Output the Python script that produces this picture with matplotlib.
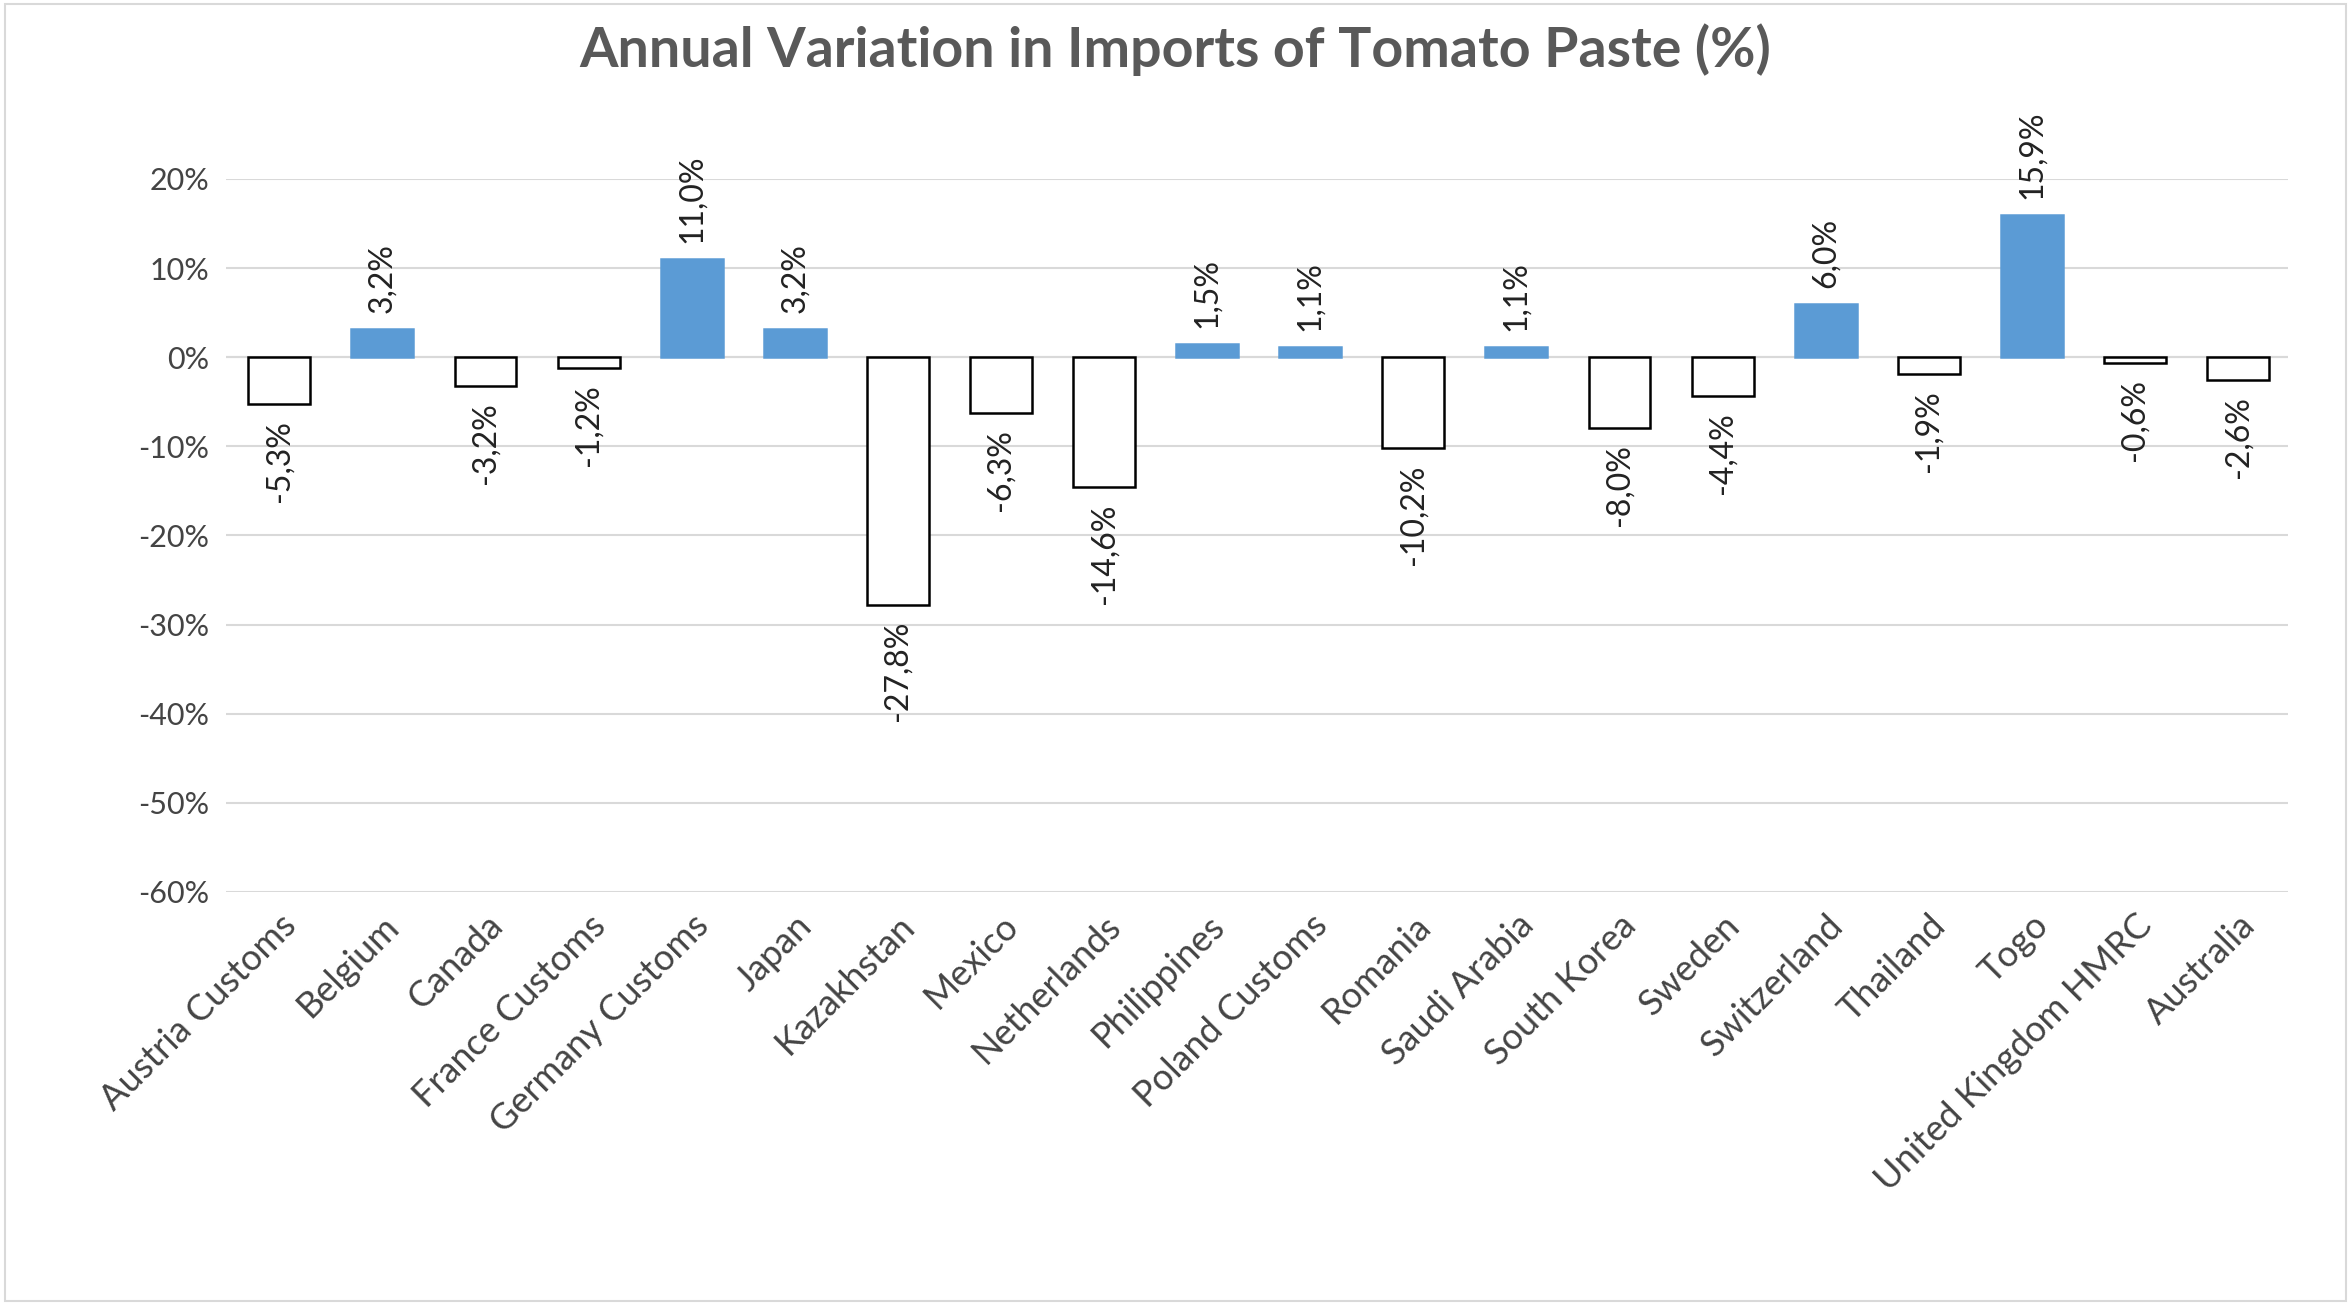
import matplotlib
matplotlib.use('Agg')
import matplotlib.pyplot as plt
import numpy as np

plt.rcParams['font.family'] = ['Lato', 'DejaVu Sans']

countries = ['Austria Customs', 'Belgium', 'Canada', 'France Customs', 'Germany Customs',
             'Japan', 'Kazakhstan', 'Mexico', 'Netherlands', 'Philippines', 'Poland Customs',
             'Romania', 'Saudi Arabia', 'South Korea', 'Sweden', 'Switzerland', 'Thailand',
             'Togo', 'United Kingdom HMRC', 'Australia']
values = [-5.3, 3.2, -3.2, -1.2, 11.0, 3.2, -27.8, -6.3, -14.6, 1.5, 1.1, -10.2, 1.1,
          -8.0, -4.4, 6.0, -1.9, 15.9, -0.6, -2.6]
yticks = [20, 10, 0, -10, -20, -30, -40, -50, -60]

fig = plt.figure(figsize=(23.51, 13.06), dpi=100)
ax = fig.add_axes([0.096, 0.317, 0.877, 0.546])

x = np.arange(len(countries))
colors = ['#5B9BD5' if v > 0 else 'white' for v in values]
edges = ['#5B9BD5' if v > 0 else 'black' for v in values]
ax.bar(x, values, width=0.6, color=colors, edgecolor=edges, linewidth=1.8, zorder=3)

for xi, v in zip(x, values):
    lab = ('%.1f%%' % v).replace('.', ',')
    if v > 0:
        ax.text(xi, v + 1.8, lab, rotation=90, ha='center', va='bottom', fontsize=23, color='#222222')
    else:
        ax.text(xi, v - 1.8, lab, rotation=90, ha='center', va='top', fontsize=23, color='#222222')

ax.set_ylim(-60, 20)
ax.set_xlim(-0.52, len(countries) - 0.52)
ax.set_yticks(yticks)
ax.set_yticklabels(['%d%%' % t for t in yticks], fontsize=22, color='#444444')
ax.yaxis.grid(True, color='#D9D9D9', linewidth=1.5, zorder=0)
ax.axhline(0, color='#D9D9D9', linewidth=1.5, zorder=1)
ax.set_xticks(x)
ax.set_xticklabels(countries, rotation=45, ha='right', rotation_mode='anchor', fontsize=26, color='#444444')
ax.tick_params(axis='both', length=0, pad=12)
for s in ax.spines.values():
    s.set_visible(False)

fig.text(0.5, 0.962, 'Annual Variation in Imports of Tomato Paste (%)', ha='center', va='center',
         fontsize=40, fontweight='bold', color='#595959')
fig.patches.append(plt.Rectangle((0.002, 0.004), 0.996, 0.993, transform=fig.transFigure,
                                 fill=False, edgecolor='#D9D9D9', linewidth=1.5))

fig.savefig('out.png', dpi=100)
